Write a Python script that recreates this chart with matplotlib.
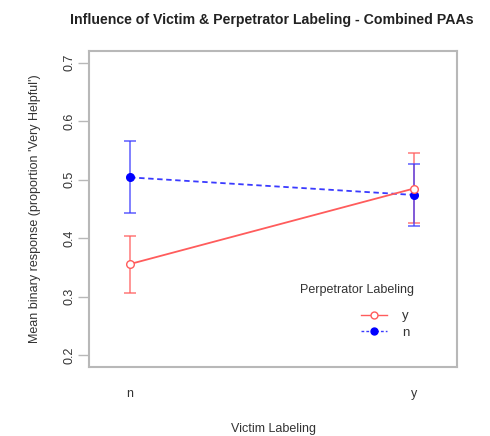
import matplotlib
matplotlib.use("Agg")
import matplotlib.pyplot as plt
from matplotlib.lines import Line2D

plt.rcParams['font.family'] = ['Liberation Sans', 'DejaVu Sans']

victim = ['n', 'y']
xpos = [1, 2]

# Perpetrator labeling = y
mean_y = [0.356, 0.485]
lo_y = [0.306, 0.426]
hi_y = [0.404, 0.545]

# Perpetrator labeling = n
mean_n = [0.504, 0.474]
lo_n = [0.443, 0.421]
hi_n = [0.567, 0.527]

yticks = [0.2, 0.3, 0.4, 0.5, 0.6, 0.7]

red = '#ff5c5c'
blue = '#3a3aff'
grey = '#b8b8b8'
txt = '#333333'

fig = plt.figure(figsize=(4.9, 4.36), dpi=100)
ax = fig.add_axes([89/490, 1-367/436, (457-89)/490, (367-51)/436])

# error bars
ax.errorbar(xpos, mean_y, yerr=[[m-l for m, l in zip(mean_y, lo_y)], [h-m for m, h in zip(mean_y, hi_y)]],
            fmt='none', ecolor=red, elinewidth=1.2, capsize=4, capthick=1.2, alpha=0.75)
ax.errorbar(xpos, mean_n, yerr=[[m-l for m, l in zip(mean_n, lo_n)], [h-m for m, h in zip(mean_n, hi_n)]],
            fmt='none', ecolor=blue, elinewidth=1.2, capsize=4, capthick=1.2, alpha=0.75)

# lines
ax.plot(xpos, mean_n, '--', color=blue, lw=1.3, dashes=(3, 2))
ax.plot(xpos, mean_y, '-', color=red, lw=1.3)
ax.plot(xpos, mean_n, 'o', mfc='#0000ff', mec='#0000ff', ms=5.5)
ax.plot(xpos, mean_y, 'o', mfc='white', mec=red, ms=5.5, mew=1.0)

ax.set_xlim(0.855, 2.152)
ax.set_ylim(0.18, 0.72)
ax.set_xticks(xpos)
ax.set_xticklabels(victim)
ax.set_yticks(yticks)
ax.set_yticklabels(['%.1f' % v for v in yticks], rotation=90, va='center')
ax.tick_params(axis='x', length=0, pad=15, labelsize=9, colors=txt)
ax.tick_params(axis='y', length=8, width=1, color=grey, labelsize=9, labelcolor=txt, pad=2)
for s in ax.spines.values():
    s.set_color(grey)
    s.set_linewidth(1.5)

ax.set_xlabel('Victim Labeling', fontsize=9, color=txt, labelpad=17)
ax.set_ylabel("Mean binary response (proportion 'Very Helpful')", fontsize=9, color=txt, labelpad=16)
fig.text(272/490, 1-20/436, 'Influence of Victim & Perpetrator Labeling - Combined PAAs',
         ha='center', va='center', fontsize=10.2, fontweight='bold', color='#222222')

# legend: title as separate text, entries below
fig.text(357/490, 1-290/436, 'Perpetrator Labeling', ha='center', va='center',
         fontsize=9, color=txt)
handles = [Line2D([], [], color=red, marker='o', mfc='white', mec=red, ms=5, lw=1.0),
           Line2D([], [], color=blue, ls='--', dashes=(2, 1.5), marker='o', mfc='#0000ff', mec='#0000ff', ms=5, lw=1.0)]
leg = fig.legend(handles, ['y', 'n'], frameon=False,
                 loc='center', bbox_to_anchor=(385/490, 1-324.5/436),
                 fontsize=9.5, handlelength=2.0, handletextpad=1.1, labelspacing=0.35)
for t in leg.get_texts():
    t.set_color(txt)

fig.savefig('out.png', dpi=100)
